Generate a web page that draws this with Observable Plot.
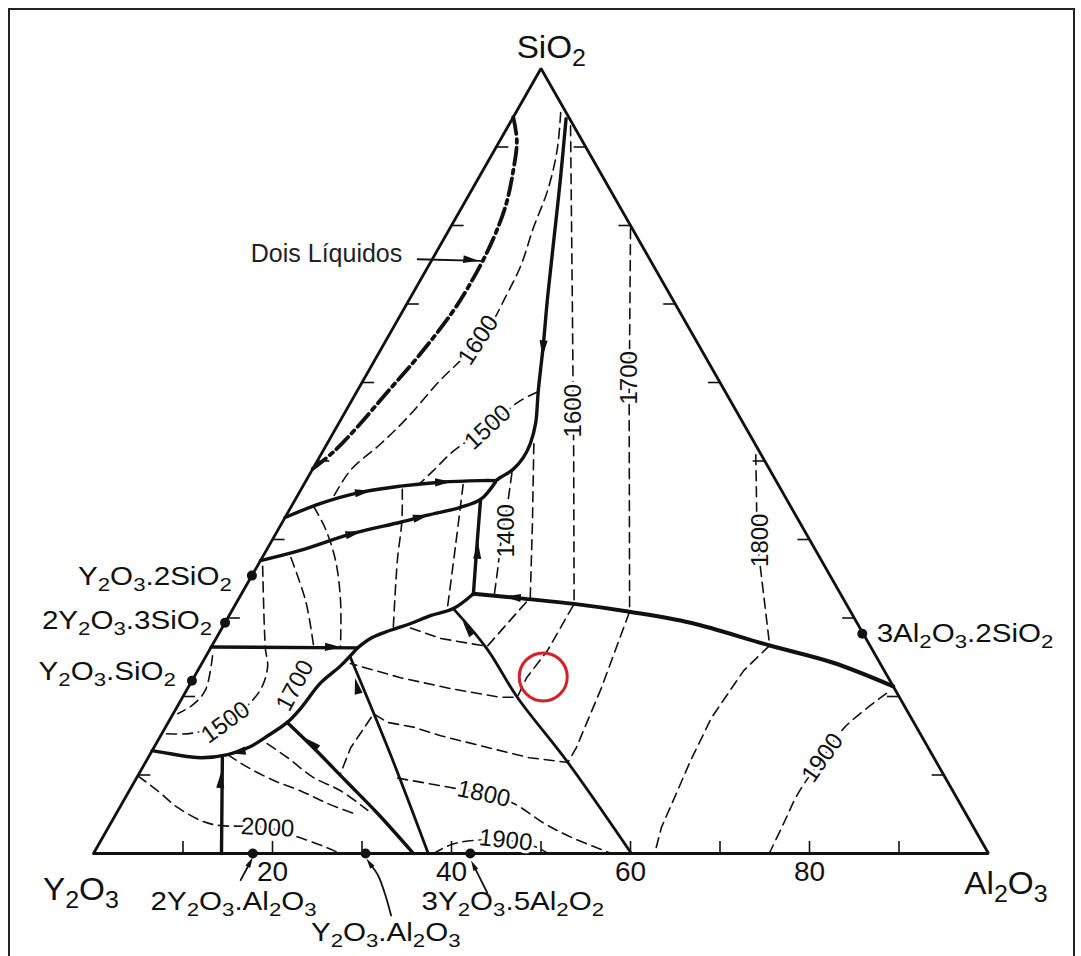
<!DOCTYPE html>
<html><head><meta charset="utf-8">
<script src="https://cdn.jsdelivr.net/npm/d3@7"></script>
<script src="https://cdn.jsdelivr.net/npm/@observablehq/plot@0.6"></script>
<style>
html,body{margin:0;padding:0;background:#fff;overflow:hidden;}
#wrap{position:relative;width:1081px;height:956px;overflow:hidden;background:#fff;}
#frame{position:absolute;left:8px;top:8px;width:1067px;height:1100px;border:2px solid #222;box-sizing:border-box;pointer-events:none;}
svg{font-family:"Liberation Sans",Arial,Helvetica,sans-serif;}
</style></head><body><div id="wrap"><div id="frame"></div></div>
<script>
// ---- Data: compositions as [Al2O3 %, SiO2 %] (Y2O3 = remainder) ----
const tickValues = [10,20,30,40,50,60,70,80,90];
const axisLabels = [20,40,60,80];
const triangle = [[0,0],[100,0],[0,100],[0,0]];

// primary-phase field boundaries (solid)
const boundaryL1 = [[6.0,93.6],[9.3,85.7],[12.9,76.8],[15.5,70.4],[17.9,64.7],[20.2,59.0],[22.0,54.8],[22.7,52.2],[22.8,50.4],[22.4,48.9],[21.5,47.9],[21.2,47.5]];
const boundaryL2 = [[0,42.8],[3.1,44.6],[6.8,46.0],[10.9,46.8],[15.1,47.3],[19.5,47.5],[21.2,47.5]];
const boundaryL3 = [[0,37.3],[3.8,38.6],[8.65,40.8],[13.2,42.2],[15.8,43.1],[18.95,44.1],[20.7,45.1],[21.25,47.3]];
const boundaryL4 = [[20.7,45.1],[23.5,38.6],[25.9,33.1]];
const boundaryL5 = [[25.9,33.1],[31.5,32.5],[37.8,31.8],[44.5,30.8],[52.0,29.4],[62.3,26.5],[70.5,24.3],[78.7,21.3]];
const boundaryL6 = [[25.9,33.1],[24.6,31.2],[22.5,30.3],[20.8,29.3],[18.5,28.2],[17.25,27.4],[16.4,26.2]];
const boundaryL7 = [[0,26.3],[16.4,26.2]];
const boundaryL8 = [[16.4,26.2],[15.65,23.9],[14.5,21.7],[13.9,18.5],[13.3,16.7],[11.8,14.8],[10.7,13.6],[8.7,12.6],[5.9,12.2],[2.25,12.7],[0,13.1]];
const boundaryL9 = [[8.2,12.4],[14.3,0]];
const boundaryL10 = [[13.3,16.7],[17.8,13.5],[23.5,9.3],[29.2,5.1],[35.75,0]];
const boundaryL11 = [[16.2,25.0],[26.8,12.7],[37.4,0]];
const boundaryL12 = [[24.6,31.2],[30.9,26.1],[37.4,19.9],[47.2,11.6],[60.1,0]];

// two-liquid region (dash-dot)
const miscibility = [[0,93.8],[1.9,90.8],[3.4,87.0],[4.8,82.5],[5.6,77.5],[5.8,72.4],[5.6,68.8],[4.6,63.2],[3.4,58.6],[2.3,54.3],[1.3,51.3],[0,49.0]];

// liquidus isotherms (dashed)
const iso1600a = [[5.0,94.4],[7.0,89.6],[8.5,84.5],[9.3,79.7],[10.3,74.9],[10.6,70.8],[10.7,67.3],[10.3,65.4],[9.6,62.8],[8.6,60.3],[7.3,55.5],[6.0,52.2],[4.3,48.8],[4.1,45.2]];
const iso1500a = [[20.2,58.8],[18.7,57.5],[16.9,54.3],[14.6,51.3],[13.6,48.8],[12.8,46.9]];
const iso1400 = [[22.5,48.5],[24.3,43.7],[25.6,39.9],[27.1,36.1],[28.25,33.1]];
const iso1500b = [[23.1,52.2],[27.85,42.4],[32.5,32.6],[31.7,29.7],[30.8,26.4],[28.4,26.8],[25.1,27.4],[20.2,29.0]];
const iso1600b = [[6.95,92.7],[18.3,70.4],[28.0,51.3],[37.8,31.8],[37.8,25.9],[37.2,22.4],[37.4,19.9],[35.5,19.9],[29.4,21.0],[23.1,22.4],[16.6,24.2]];
const iso1700 = [[20.2,79.6],[31.0,57.7],[44.5,30.8],[46.2,21.1],[47.2,13.5],[47.2,11.6],[42.6,12.2],[37.3,13.5],[31.3,15.0],[27.7,16.1],[24.5,16.7],[22.4,17.8],[22.0,13.5],[22.5,10.2]];
const iso1800 = [[48.6,50.8],[54.2,39.9],[62.3,26.5],[61.0,23.3],[60.4,17.3],[60.8,11.8],[61.3,7.6],[61.8,3.3],[62.7,0]];
const iso1800b = [[29.2,9.6],[35.7,8.4],[39.8,7.6],[43.7,6.4],[48.5,3.8],[52.5,2.0],[57.9,0]];
const iso1900 = [[78.4,20.4],[75.9,16.1],[75.35,12.2],[74.9,7.6],[75.2,3.8],[75.5,0]];
const iso1900b = [[38.0,0],[39.8,1.3],[45.2,1.7],[49.1,0.8],[50.8,0]];
const iso2000 = [[0,9.9],[3.15,8.0],[6.4,5.9],[9.9,4.2],[12.05,3.6],[17.8,3.3],[22.1,2.0],[26.6,0.4],[27.4,0]];
const isoV1 = [[11.3,46.4],[13.3,42.3],[15.3,37.3],[19.1,28.8]];
const isoV2 = [[17.8,47.0],[20.85,39.2],[23.9,31.3]];
const isoV3 = [[2.5,44.2],[5.2,41.4],[8.4,37.3],[11.5,32.2],[14.4,26.4]];
const isoV4 = [[3.2,37.7],[7.6,32.2],[11.4,26.4]];
const iso1500c = [[0.6,36.6],[6.1,26.2],[7.6,23.7],[8.2,20.5],[6.4,16.7],[3.2,15.3],[0,15.3]];
const isoSmall = [[0.7,25.2],[2.1,20.8],[1.6,18.9],[0.5,17.8]];
const isoDa = [[8.7,12.6],[11.7,11.0],[15.5,9.3],[19.1,8.0],[22.9,6.4],[26.5,5.1]];
const isoDb = [[12.4,14.0],[15.6,12.2],[19.7,9.7],[23.6,8.0],[27.9,5.5]];

// arrowheads on boundaries: [A, S, A toward, S toward]
const arrowHeads = [
  [17.9,64.7,19.3,61.5],[6.8,46.0,10.9,46.8],[15.1,47.3,19.5,47.5],
  [8.4,40.7,13.2,42.2],[14.9,42.8,18.95,44.1],[23.8,38.2,20.7,45.1],
  [30.85,32.6,25.9,33.1],[13.3,26.3,16.4,26.2],[9.9,13.0,5.9,12.2],
  [9.7,9.0,8.2,12.4],[17.7,13.8,13.3,16.7],[19.0,21.0,16.2,25.0],[27.8,28.4,24.6,31.2]
];

// compounds
const compoundPoints = [[0,35.4],[0,29.4],[0,22.0],[71.9,28.0],[17.8,0],[30.4,0],[42.1,0]];
const vertexLabels = [["SiO2",-0.2,102.7],["Y2O3",0.9,-4.6],["Al2O3",103.9,-3.9]];
const compoundLabels = [
  ["Y2O3.2SiO2",-2.2,35.3,"end"],["2Y2O3.3SiO2",-1.6,29.7,"end"],["Y2O3.SiO2",-2.4,23.2,"end"],
  ["3Al2O3.2SiO2",73.5,28.0,"start"],["2Y2O3.Al2O3",18.7,-6.1,"middle"],
  ["3Y2O3.5Al2O2",49.9,-6.1,"middle"],["Y2O3.Al2O3",37.7,-10.1,"middle"]
];
const isoLabels = [
  ["1600",10.3,65.4,-57],["1500",16.9,54.3,-43],["1600",25.4,56.4,-90],["1700",29.6,60.6,-90],
  ["1400",25.6,41.1,-90],["1800",54.5,39.9,-90],["1900",75.35,12.2,-55],["1800",39.8,7.6,12],
  ["1900",45.2,1.7,6],["2000",17.8,3.3,3],["1500",6.4,16.7,-36],["1700",11.8,21.4,-62]
];
const noteLabel = ["Dois Líquidos",-3.7,76.4];
const notePointer = [[-1.63,75.7],[5.47,75.5]];
const notePointerHead = [4.05,75.65,5.47,75.5];
const compoundPointers = [
  [[18.14,-3.4],[18.07,-1.3]],
  [[37.2,-7.9],[35.3,-5.35],[33.2,-2.8],[31.65,-1.4]],
  [[46.5,-5.0],[43.4,-1.7]]
];
const highlight = [39.0,22.5];

// ---- projection helpers ----
const P = ([a,s]) => ({x: a + s/2, y: s});
const xs = d3.scaleLinear([0,100],[93,988]);
const ys = d3.scaleLinear([0,100],[853,68]);
function rows(obj){const r=[];for(const [id,pts] of Object.entries(obj))for(const p of pts)r.push({id,...P(p)});return r;}
function heads(list){return list.map(([a,s,a2,s2])=>{const p=P([a,s]),q=P([a2,s2]);const dx=xs(q.x)-xs(p.x),dy=ys(q.y)-ys(p.y);return {...p,angle:Math.atan2(dx,-dy)*180/Math.PI};});}
const headSym = {draw(ctx,size){const r=Math.sqrt(size/Math.PI);ctx.moveTo(0,-1.9*r);ctx.lineTo(0.7*r,0.9*r);ctx.lineTo(-0.7*r,0.9*r);ctx.closePath();}};

const tickRows = [];
for (const t of tickValues) {
  tickRows.push({x1:t/2,y1:t,x2:t/2+1.35,y2:t});
  tickRows.push({x1:100-t/2,y1:t,x2:100-t/2-1.35,y2:t});
  tickRows.push({x1:t,y1:0,x2:t,y2:1.6});
}

const thick = rows({boundaryL1,boundaryL2,boundaryL3,boundaryL4,boundaryL6,boundaryL7,boundaryL8,boundaryL9,boundaryL10});
const thickL5 = rows({boundaryL5});
const medium = rows({boundaryL11,boundaryL12});
const dashSmooth = rows({iso1600a,iso1500a,iso1400,iso1800b,iso1900,iso1900b,iso2000,isoV1,isoV2,isoV3,isoV4,iso1500c,isoSmall,isoDa,isoDb});
const dashKinked = rows({iso1500b,iso1600b,iso1700,iso1800});

const vertexNames = new Set(vertexLabels.map(d=>d[0]));

const svg = Plot.plot({
  width:1081, height:956,
  x:{domain:[0,100],range:[93,988],axis:null},
  y:{domain:[0,100],range:[853,68],axis:null},
  style:{fontFamily:'"Liberation Sans",Arial,sans-serif',background:"transparent",overflow:"visible"},
  marks:[
    Plot.line(dashSmooth,{x:"x",y:"y",z:"id",curve:"catmull-rom",stroke:"#111",strokeWidth:1.6,strokeDasharray:"10,6"}),
    Plot.line(dashKinked,{x:"x",y:"y",z:"id",curve:"linear",stroke:"#111",strokeWidth:1.6,strokeDasharray:"10,6"}),
    Plot.line(rows({miscibility}),{x:"x",y:"y",curve:"catmull-rom",stroke:"#111",strokeWidth:3.8,strokeDasharray:"17,5,4,5"}),
    Plot.line(triangle.map(P),{x:"x",y:"y",stroke:"#111",strokeWidth:2.8,strokeLinejoin:"miter"}),
    Plot.link(tickRows,{x1:"x1",y1:"y1",x2:"x2",y2:"y2",stroke:"#111",strokeWidth:1.6}),
    Plot.line(thick,{x:"x",y:"y",z:"id",curve:"catmull-rom",stroke:"#111",strokeWidth:3.4,strokeLinejoin:"round"}),
    Plot.line(thickL5,{x:"x",y:"y",curve:"catmull-rom",stroke:"#111",strokeWidth:4}),
    Plot.line(medium,{x:"x",y:"y",z:"id",curve:"catmull-rom",stroke:"#111",strokeWidth:2.8}),
    Plot.dot(heads(arrowHeads),{x:"x",y:"y",rotate:"angle",symbol:headSym,r:5.8,fill:"#111",stroke:"none"}),
    Plot.dot(compoundPoints.map(P),{x:"x",y:"y",r:5,fill:"#111"}),
    Plot.line(notePointer.map(P),{x:"x",y:"y",stroke:"#111",strokeWidth:1.8}),
    Plot.dot(heads([notePointerHead]),{x:"x",y:"y",rotate:"angle",symbol:headSym,r:5.5,fill:"#111"}),
    Plot.line(rows(Object.fromEntries(compoundPointers.map((p,i)=>["p"+i,p]))),{x:"x",y:"y",z:"id",curve:"catmull-rom",stroke:"#111",strokeWidth:1.8}),
    Plot.dot(heads(compoundPointers.map(p=>{const a=p[p.length-2],b=p[p.length-1];return [b[0],b[1],b[0]+(b[0]-a[0]),b[1]+(b[1]-a[1])];})),{x:"x",y:"y",rotate:"angle",symbol:headSym,r:3.8,fill:"#111"}),
    Plot.text(isoLabels.map(([t,a,s,r])=>({t,r,...P([a,s])})),{x:"x",y:"y",text:"t",rotate:"r",fontSize:24,fill:"#111",stroke:"white",strokeWidth:6,paintOrder:"stroke"}),
    Plot.text(axisLabels.map(v=>({t:String(v),...P([v+1.2,-2.4])})),{x:"x",y:"y",text:"t",fontSize:28,fill:"#111"}),
    Plot.text([noteLabel].map(([t,a,s])=>({t,...P([a,s])})),{x:"x",y:"y",text:"t",fontSize:25,textAnchor:"end",fill:"#222"}),
    Plot.text(vertexLabels.map(([t,a,s])=>({t,...P([a,s])})),{x:"x",y:"y",text:"t",fontSize:32,fill:"#111"}),
    Plot.text(compoundLabels.filter(d=>d[3]==="end").map(([t,a,s])=>({t,...P([a,s])})),{x:"x",y:"y",text:"t",fontSize:25.5,textAnchor:"end",fill:"#111"}),
    Plot.text(compoundLabels.filter(d=>d[3]==="start").map(([t,a,s])=>({t,...P([a,s])})),{x:"x",y:"y",text:"t",fontSize:25.5,textAnchor:"start",fill:"#111"}),
    Plot.text(compoundLabels.filter(d=>d[3]==="middle").map(([t,a,s])=>({t,...P([a,s])})),{x:"x",y:"y",text:"t",fontSize:25.5,textAnchor:"middle",fill:"#111"}),
    Plot.dot([P(highlight)],{x:"x",y:"y",r:24,stroke:"#d2232a",strokeWidth:3,fill:"none"})
  ]
});

// chemical formulas: digits that follow a letter become subscripts; widen compound labels
(function chemify(root){
  const ns="http://www.w3.org/2000/svg";
  root.querySelectorAll("text").forEach(t=>{
    const s=t.textContent;
    if(!/[A-Za-z]\d/.test(s)) return;
    const isVertex=vertexNames.has(s);
    const fs=isVertex?32:25.5, sx=isVertex?1.04:1.16;
    while(t.firstChild)t.removeChild(t.firstChild);
    const runs=[];
    for(let k=0;k<s.length;k++){
      const c=s[k];
      const sub=/\d/.test(c)&&k>0&&/[A-Za-z]/.test(s[k-1]);
      if(runs.length&&runs[runs.length-1].sub===sub)runs[runs.length-1].txt+=c;else runs.push({sub,txt:c});
    }
    let low=false;
    for(const r of runs){
      const ts=document.createElementNS(ns,"tspan");
      ts.textContent=r.txt;
      if(r.sub){ts.setAttribute("font-size",fs*0.75);if(!low){ts.setAttribute("dy",fs*0.25);low=true;}}
      else if(low){ts.setAttribute("dy",-fs*0.25);low=false;}
      t.appendChild(ts);
    }
    const tr=t.getAttribute("transform");
    if(tr)t.setAttribute("transform",tr+` scale(${sx},1)`);
    else{const x=+t.getAttribute("x")||0;t.removeAttribute("x");t.setAttribute("transform",`translate(${x},0) scale(${sx},1)`);}
  });
})(svg);
document.getElementById("wrap").prepend(svg);
</script></body></html>
